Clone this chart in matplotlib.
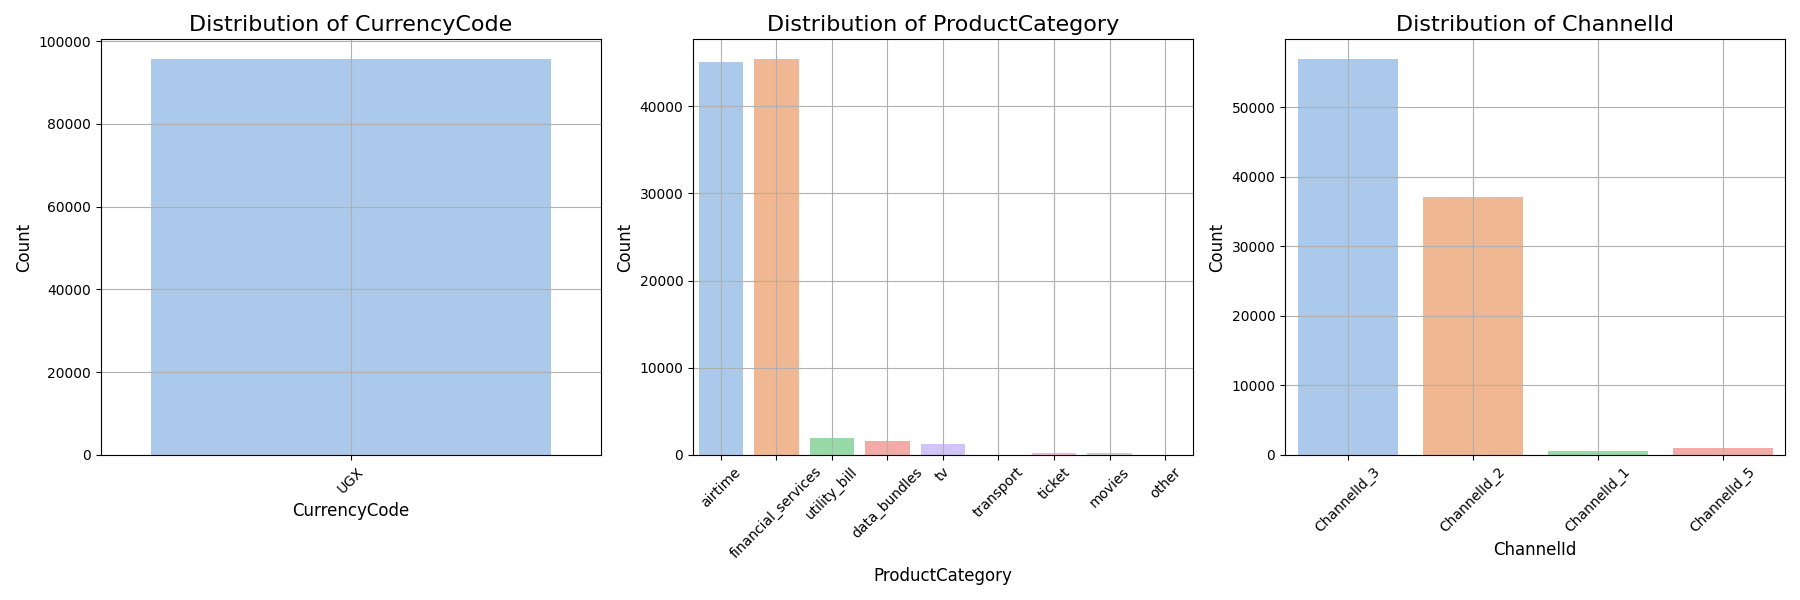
import matplotlib
matplotlib.use("Agg")
import matplotlib.pyplot as plt
import seaborn as sns

currency = ["UGX"]
currency_counts = [95662]

product = ["airtime", "financial_services", "utility_bill", "data_bundles", "tv",
           "transport", "ticket", "movies", "other"]
product_counts = [45027, 45405, 1920, 1613, 1279, 25, 216, 175, 2]

channel = ["ChannelId_3", "ChannelId_2", "ChannelId_1", "ChannelId_5"]
channel_counts = [56935, 37141, 538, 1048]

pal = sns.color_palette("pastel")

fig, axes = plt.subplots(1, 3, figsize=(18, 6), dpi=100)
panels = [("CurrencyCode", currency, currency_counts),
          ("ProductCategory", product, product_counts),
          ("ChannelId", channel, channel_counts)]

for ax, (name, cats, vals) in zip(axes, panels):
    sns.barplot(x=cats, y=vals, hue=cats, palette=pal[:len(cats)], legend=False, ax=ax)
    ax.set_title(f"Distribution of {name}", fontsize=16)
    ax.set_xlabel(name, fontsize=12)
    ax.set_ylabel("Count", fontsize=12)
    ax.tick_params(axis="x", rotation=45)
    ax.grid(True)

plt.tight_layout()
plt.savefig("out.png")
